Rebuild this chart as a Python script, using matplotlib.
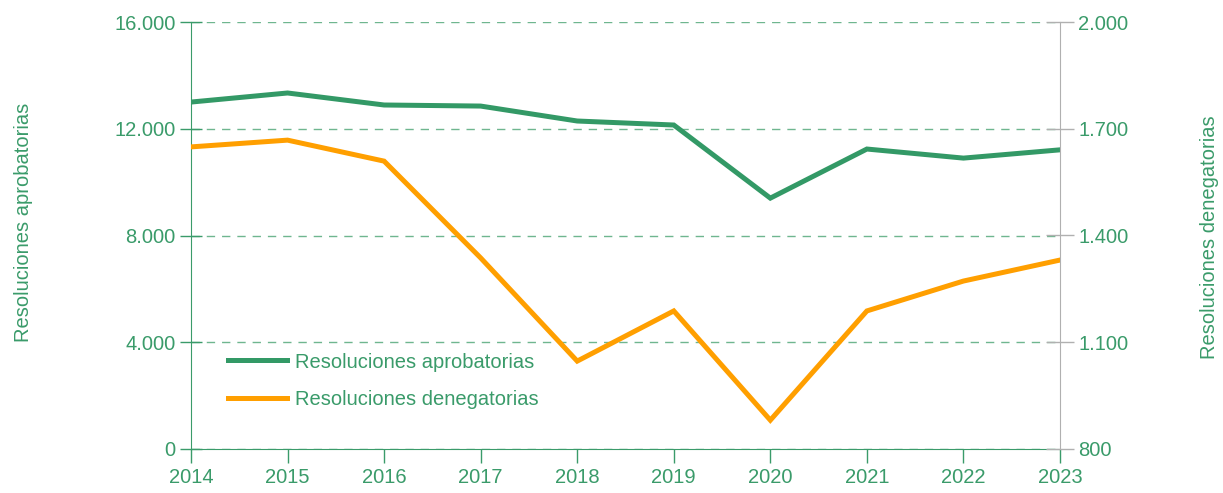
import matplotlib
matplotlib.use("Agg")
from matplotlib import pyplot as plt
from matplotlib.ticker import FuncFormatter

plt.rcParams['font.family'] = ['Liberation Sans', 'DejaVu Sans']

years = [2014, 2015, 2016, 2017, 2018, 2019, 2020, 2021, 2022, 2023]
aprobatorias = [13000, 13340, 12890, 12850, 12290, 12140, 9400, 11240, 10900, 11210]
denegatorias = [1649, 1668, 1609, 1337, 1047, 1188, 881, 1188, 1272, 1331]

green = '#3a9b6a'
line_green = '#339966'
orange = '#ff9f00'
grey = '#b0b0b0'
fs = 14.5


def miles(v, pos):
    return '{:,.0f}'.format(v).replace(',', '.')


fig = plt.figure(figsize=(12.23, 4.93), dpi=100)
ax = fig.add_axes([191 / 1223, 1 - 449 / 493, (1060 - 191) / 1223, (449 - 22) / 493])
ax2 = ax.twinx()

l1, = ax.plot(years, aprobatorias, color=line_green, lw=3.6, solid_joinstyle='miter',
              label='Resoluciones aprobatorias', zorder=3)
l2, = ax2.plot(years, denegatorias, color=orange, lw=3.6, solid_joinstyle='miter',
               label='Resoluciones denegatorias', zorder=3)

ax.set_xlim(2014, 2023)
ax.set_ylim(0, 16000)
ax.set_yticks([0, 4000, 8000, 12000, 16000])
ax2.set_ylim(800, 2000)
ax2.set_yticks([800, 1100, 1400, 1700, 2000])
ax.set_xticks(years)
ax.yaxis.set_major_formatter(FuncFormatter(miles))
ax2.yaxis.set_major_formatter(FuncFormatter(miles))

ax.grid(axis='y', color='#6fb68f', ls=(0, (6, 5)), lw=1)
ax.set_axisbelow(True)

for a in (ax, ax2):
    a.spines['top'].set_visible(False)
ax.spines['left'].set_color(green)
ax.spines['bottom'].set_color(green)
ax.spines['right'].set_visible(False)
ax2.spines['left'].set_visible(False)
ax2.spines['bottom'].set_visible(False)
ax2.spines['right'].set_color(grey)

ax.tick_params(axis='y', direction='inout', length=16, width=1, color=green,
               labelcolor=green, labelsize=fs, pad=3)
ax.tick_params(axis='x', direction='out', length=10, width=1, color=green,
               labelcolor=green, labelsize=fs, pad=4)
ax2.tick_params(axis='y', direction='inout', length=20, width=1, color=grey,
                labelcolor=green, labelsize=fs, pad=3)

ax.set_ylabel('Resoluciones aprobatorias', color=green, fontsize=fs)
ax.yaxis.set_label_coords(-0.182, 0.53)
ax2.set_ylabel('Resoluciones denegatorias', color=green, fontsize=fs)
ax2.yaxis.set_label_coords(1.161, 0.495)

leg = ax.legend(handles=[l1, l2], loc='lower left', bbox_to_anchor=(0.022, 0.052),
                frameon=False, fontsize=fs, handlelength=2.9, handletextpad=0.4,
                labelspacing=0.9)
for t in leg.get_texts():
    t.set_color(green)

fig.savefig('out.png', dpi=100)
